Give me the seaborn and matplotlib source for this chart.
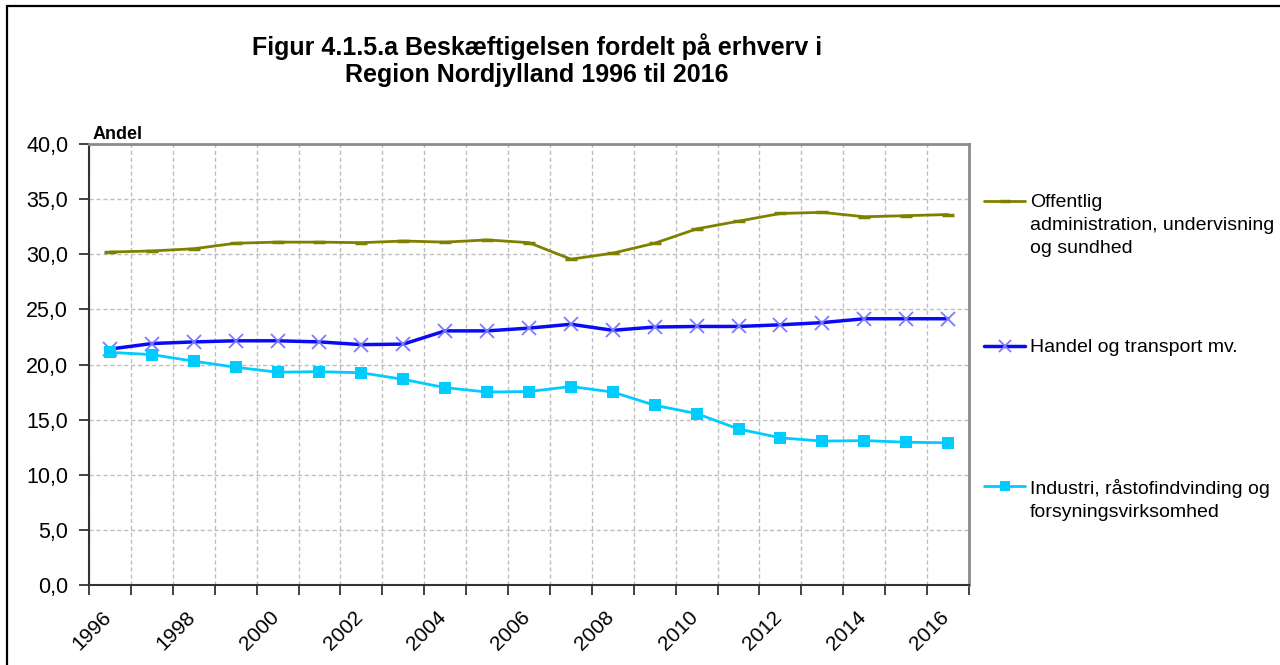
import numpy as np
import pandas as pd
import matplotlib
matplotlib.use("Agg")
import matplotlib.pyplot as plt
import matplotlib.transforms as mtrans
from matplotlib.lines import Line2D
import seaborn as sns

# ---------------- data ----------------
years = list(range(1996, 2017))
offentlig = [30.2, 30.3, 30.5, 31.0, 31.1, 31.1, 31.05, 31.2, 31.1, 31.3, 31.05,
             29.55, 30.1, 31.0, 32.3, 33.0, 33.7, 33.8, 33.4, 33.5, 33.6]
handel = [21.4, 21.9, 22.05, 22.15, 22.15, 22.05, 21.8, 21.85, 23.05, 23.05, 23.3,
          23.65, 23.1, 23.4, 23.45, 23.45, 23.6, 23.8, 24.15, 24.15, 24.15]
industri = [21.1, 20.9, 20.3, 19.75, 19.3, 19.35, 19.25, 18.65, 17.9, 17.5, 17.55,
            18.0, 17.5, 16.3, 15.55, 14.15, 13.35, 13.05, 13.1, 12.95, 12.9]
series_labels = ["Offentlig\nadministration, undervisning\nog sundhed",
                 "Handel og transport mv.",
                 "Industri, råstofindvinding og\nforsyningsvirksomhed"]
label_years = list(range(1996, 2017, 2))
y_ticks = [0, 5, 10, 15, 20, 25, 30, 35, 40]
title = "Figur 4.1.5.a Beskæftigelsen fordelt på erhverv i\nRegion Nordjylland 1996 til 2016"

# ---------------- style ----------------
sns.set_style("white")
plt.rcParams["font.family"] = ["Liberation Sans", "DejaVu Sans"]
plt.rcParams["text.color"] = "black"
plt.rcParams["xtick.color"] = "black"
plt.rcParams["ytick.color"] = "black"

W, H = 1280, 665
fig = plt.figure(figsize=(W / 100, H / 100), dpi=100)
ax = fig.add_axes([89 / W, 1 - 585 / H, (969 - 89) / W, (585 - 144) / H])

styles = [
    dict(color="#808000", marker="_", markersize=8, markeredgewidth=2.5,
         markeredgecolor="#808000", linewidth=2),
    dict(color="#0A0AF5", marker="x", markersize=10, markeredgewidth=1.3,
         markeredgecolor="#7B7BFF", linewidth=2.5),
    dict(color="#00CCFF", marker="s", markersize=9, markeredgewidth=0,
         markerfacecolor="#00CCFF", linewidth=2),
]
for vals, st in zip([offentlig, handel, industri], styles):
    df = pd.DataFrame({"year": years, "value": vals})
    sns.lineplot(data=df, x="year", y="value", ax=ax, legend=False, zorder=3, **st)

ax.set_xlim(1995.5, 2016.5)
ax.set_ylim(0, 40)
ax.set_xlabel("")
ax.set_ylabel("")

# major ticks at category boundaries (grid + tick marks), labels on minor ticks
ax.set_xticks(np.arange(1995.5, 2017, 1.0))
ax.set_xticklabels([])
ax.set_xticks(label_years, minor=True)
ax.set_xticklabels([str(y) for y in label_years], minor=True, rotation=45,
                   ha="right", fontsize=15)
ax.tick_params(axis="x", which="major", direction="out", length=7, width=1.3,
               color="#333333", bottom=True)
ax.tick_params(axis="x", which="minor", length=0, pad=16)
offset = mtrans.ScaledTranslation(5 / 100, 0, fig.dpi_scale_trans)
for lab in ax.get_xticklabels(minor=True):
    lab.set_transform(lab.get_transform() + offset)

ax.set_yticks(y_ticks)
ax.set_yticklabels([f"{v:.1f}".replace(".", ",") for v in y_ticks], fontsize=15.5)
ax.tick_params(axis="y", direction="out", length=7, width=1.3, color="#333333",
               pad=8, left=True)

ax.grid(True, which="major", color="#BEBEBE", linestyle=(0, (3, 2)), linewidth=1)
ax.set_axisbelow(True)

for side in ["left", "bottom"]:
    ax.spines[side].set_color("#333333")
    ax.spines[side].set_linewidth(1.5)
for side in ["top", "right"]:
    ax.spines[side].set_color("#8C8C8C")
    ax.spines[side].set_linewidth(2)

ax.text(0.004, 1.002, "Andel", transform=ax.transAxes, fontsize=13,
        fontweight="bold", ha="left", va="bottom")

fig.text(537 / W, 1 - 33 / H, title, ha="center", va="top", fontsize=18,
         fontweight="bold", linespacing=1.15)

# legend (manual, Excel-like)
leg_y = [201, 346, 486]
for lab, st, yy in zip(series_labels, styles, leg_y):
    yf = 1 - yy / H
    ln = Line2D([984 / W, 1025 / W], [yf, yf], transform=fig.transFigure,
                color=st["color"], linewidth=st["linewidth"])
    mk = Line2D([1004.5 / W], [yf], transform=fig.transFigure, linestyle="none",
                marker=st["marker"], markersize=st["markersize"] * 0.85,
                markeredgewidth=st["markeredgewidth"],
                markeredgecolor=st.get("markeredgecolor", st["color"]),
                markerfacecolor=st.get("markerfacecolor", st["color"]))
    fig.add_artist(ln)
    fig.add_artist(mk)
    fig.text(1030 / W, 1 - (yy - 7) / H, lab, ha="left", va="top", fontsize=14,
             linespacing=1.45)

# outer frame lines (top and left)
fig.add_artist(Line2D([7 / W, 1.0], [1 - 6 / H, 1 - 6 / H], transform=fig.transFigure,
                      color="black", linewidth=1.6))
fig.add_artist(Line2D([7 / W, 7 / W], [1 - 6 / H, 0.0], transform=fig.transFigure,
                      color="black", linewidth=1.6))

fig.savefig("out.png", dpi=100, facecolor="white")
